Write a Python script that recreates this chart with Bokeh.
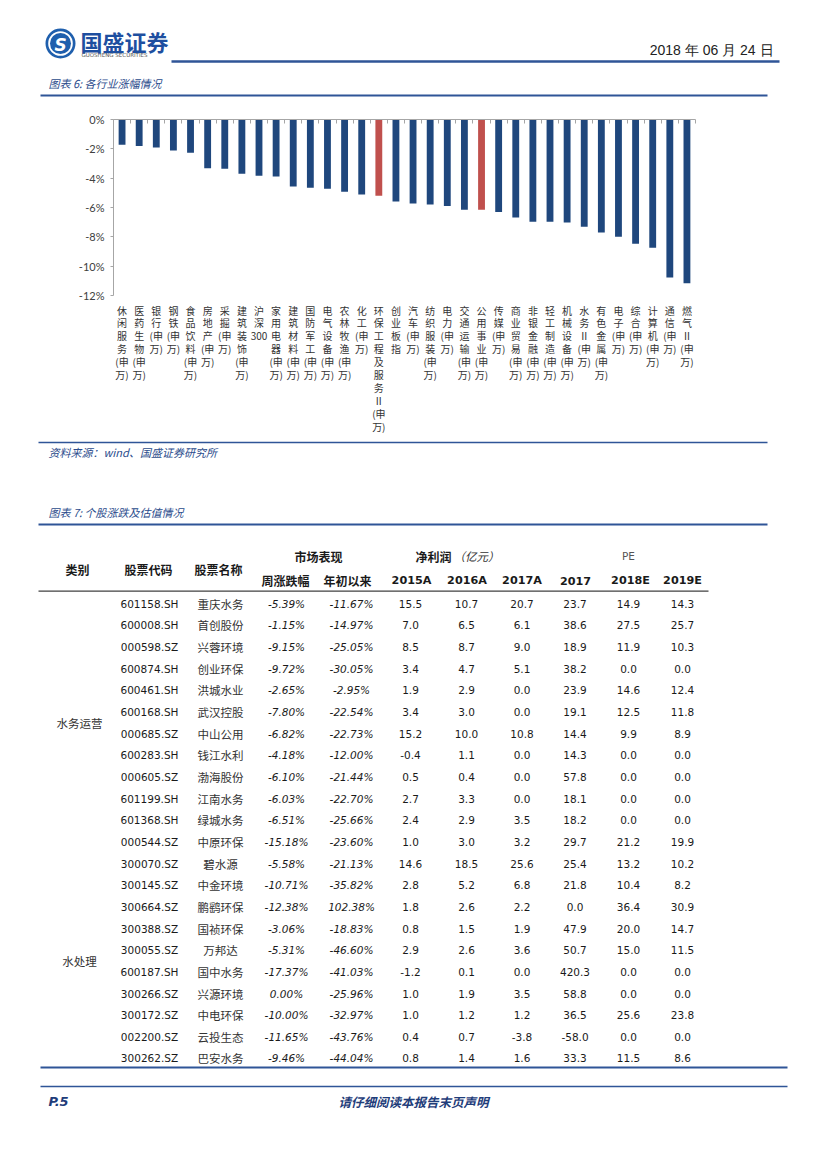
from bokeh.plotting import figure
from bokeh.models import Range1d, LinearAxis, FixedTicker, PrintfTickFormatter, ColumnDataSource, CustomJSTickFormatter
from bokeh.layouts import column
from bokeh.embed import file_html
from bokeh.resources import INLINE
from bokeh.core.properties import value

# ---------------- data: chart ----------------
industries = ["休闲服务(申万)", "医药生物(申万)", "银行(申万)", "钢铁(申万)", "食品饮料(申万)",
              "房地产(申万)", "采掘(申万)", "建筑装饰(申万)", "沪深300", "家用电器(申万)",
              "建筑材料(申万)", "国防军工(申万)", "电气设备(申万)", "农林牧渔(申万)", "化工(申万)",
              "环保工程及服务Ⅱ(申万)", "创业板指", "汽车(申万)", "纺织服装(申万)", "电力(申万)",
              "交通运输(申万)", "公用事业(申万)", "传媒(申万)", "商业贸易(申万)", "非银金融(申万)",
              "轻工制造(申万)", "机械设备(申万)", "水务Ⅱ(申万)", "有色金属(申万)", "电子(申万)",
              "综合(申万)", "计算机(申万)", "通信(申万)", "燃气Ⅱ(申万)"]
changes = [-1.73, -1.80, -1.91, -2.11, -2.27, -3.32, -3.36, -3.70, -3.84, -3.89,
           -4.57, -4.66, -4.73, -4.93, -5.11, -5.20, -5.59, -5.73, -5.80, -5.89,
           -6.16, -6.16, -6.30, -6.68, -6.98, -6.98, -7.02, -7.32, -7.70, -8.00,
           -8.48, -8.75, -10.77, -11.16]
highlighted = ["环保工程及服务Ⅱ(申万)", "公用事业(申万)"]
y_ticks = [0, -2, -4, -6, -8, -10, -12]

# ---------------- data: table ----------------
codes = ["601158.SH", "600008.SH", "000598.SZ", "600874.SH", "600461.SH", "600168.SH",
         "000685.SZ", "600283.SH", "000605.SZ", "601199.SH", "601368.SH", "000544.SZ",
         "300070.SZ", "300145.SZ", "300664.SZ", "300388.SZ", "300055.SZ", "600187.SH",
         "300266.SZ", "300172.SZ", "002200.SZ", "300262.SZ"]
names = ["重庆水务", "首创股份", "兴蓉环境", "创业环保", "洪城水业", "武汉控股", "中山公用",
         "钱江水利", "渤海股份", "江南水务", "绿城水务", "中原环保", "碧水源", "中金环境",
         "鹏鹞环保", "国祯环保", "万邦达", "国中水务", "兴源环境", "中电环保", "云投生态", "巴安水务"]
week_chg = [-5.39, -1.15, -9.15, -9.72, -2.65, -7.80, -6.82, -4.18, -6.10, -6.03, -6.51,
            -15.18, -5.58, -10.71, -12.38, -3.06, -5.31, -17.37, 0.00, -10.00, -11.65, -9.46]
ytd_chg = [-11.67, -14.97, -25.05, -30.05, -2.95, -22.54, -22.73, -12.00, -21.44, -22.70, -25.66,
           -23.60, -21.13, -35.82, 102.38, -18.83, -46.60, -41.03, -25.96, -32.97, -43.76, -44.04]
np2015 = [15.5, 7.0, 8.5, 3.4, 1.9, 3.4, 15.2, -0.4, 0.5, 2.7, 2.4, 1.0, 14.6, 2.8, 1.8, 0.8, 2.9, -1.2, 1.0, 1.0, 0.4, 0.8]
np2016 = [10.7, 6.5, 8.7, 4.7, 2.9, 3.0, 10.0, 1.1, 0.4, 3.3, 2.9, 3.0, 18.5, 5.2, 2.6, 1.5, 2.6, 0.1, 1.9, 1.2, 0.7, 1.4]
np2017 = [20.7, 6.1, 9.0, 5.1, 0.0, 0.0, 10.8, 0.0, 0.0, 0.0, 3.5, 3.2, 25.6, 6.8, 2.2, 1.9, 3.6, 0.0, 3.5, 1.2, -3.8, 1.6]
pe2017 = [23.7, 38.6, 18.9, 38.2, 23.9, 19.1, 14.4, 14.3, 57.8, 18.1, 18.2, 29.7, 25.4, 21.8, 0.0, 47.9, 50.7, 420.3, 58.8, 36.5, -58.0, 33.3]
pe2018 = [14.9, 27.5, 11.9, 0.0, 14.6, 12.5, 9.9, 0.0, 0.0, 0.0, 0.0, 21.2, 13.2, 10.4, 36.4, 20.0, 15.0, 0.0, 0.0, 25.6, 0.0, 11.5]
pe2019 = [14.3, 25.7, 10.3, 0.0, 12.4, 11.8, 8.9, 0.0, 0.0, 0.0, 0.0, 19.9, 10.2, 8.2, 30.9, 14.7, 11.5, 0.0, 0.0, 23.8, 0.0, 8.6]
group_names = ["水务运营", "水处理"]
group_sizes = [12, 10]
year_headers = ["2015A", "2016A", "2017A", "2017", "2018E", "2019E"]

# ---------------- styles ----------------
CJK = "Noto Sans CJK SC"
NUM = "DejaVu Sans"
BLUE = "#2F5597"
CAP_BLUE = "#2B4C8C"
BAR_BLUE = "#1F477D"
BAR_RED = "#C0504D"
AX_GRAY = "#A6A6A6"
PAGE_W = 811


def section(y_top, y_bot):
    f = figure(width=PAGE_W, height=int(round(y_bot - y_top)), x_range=Range1d(0, PAGE_W),
               y_range=Range1d(y_bot, y_top), output_backend="svg", toolbar_location=None,
               min_border=0, x_axis_type=None, y_axis_type=None, frame_align=False)
    f.outline_line_color = None
    f.background_fill_color = "white"
    f.border_fill_color = "white"
    return f


def txt(f, x, y, s, size, color="#000000", font=CJK, style="normal", align="left", baseline="middle"):
    f.text(x=[x], y=[y], text=[s], text_font=value(font), text_font_size=f"{size}px",
           text_color=color, text_font_style=style, text_align=align, text_baseline=baseline)


def hline(f, x0, x1, y, color, w):
    f.segment(x0=[x0], x1=[x1], y0=[y], y1=[y], line_color=color, line_width=w)


# ---------------- header ----------------
hdr = section(0, 105)
hdr.annulus(x=[60], y=[43], inner_radius=12.3, outer_radius=15, fill_color="#1F5FAD", line_color=None)
hdr.circle(x=[60], y=[43], radius=10.5, fill_color="#1F5FAD", line_color=None)
txt(hdr, 60, 44, "S", 17, "white", NUM, "bold italic", "center")
txt(hdr, 80, 40, "国盛证券", 22, "#1E4FA0", CJK, "bold")
txt(hdr, 81, 54, "GUOSHENG SECURITIES", 5.5, "#555555", NUM)
txt(hdr, 773, 49, "2018 年 06 月 24 日", 14, "#222222", "Liberation Sans", "normal", "right")
hline(hdr, 171, 779, 61, BLUE, 2.5)
txt(hdr, 48, 82, "图表 6:  各行业涨幅情况", 11, CAP_BLUE, CJK, "italic")
hline(hdr, 40, 767, 95, BLUE, 2)

# ---------------- bar chart ----------------


def stack(s):
    rows, pre = [], ""
    for ch in s:
        if ch == "(":
            pre = ch
        elif ch == ")":
            rows[-1] += ch
        elif ch.isdigit() and rows and rows[-1][-1:].isdigit():
            rows[-1] += ch
        else:
            rows.append(pre + ch)
            pre = ""
    return "\n".join(rows)


ncat = len(industries)
labels = [stack(c) for c in industries]
colors = [BAR_RED if c in highlighted else BAR_BLUE for c in industries]
xpos = [i + 0.5 for i in range(ncat)]
src = ColumnDataSource(dict(x=xpos, top=changes, color=colors))

p = figure(width=PAGE_W, height=333, x_range=Range1d(0, ncat),
           y_range=Range1d(-12, 0), output_backend="svg", toolbar_location=None,
           min_border_left=113, min_border_right=116, min_border_top=14, min_border_bottom=143,
           frame_align=False)
p.outline_line_color = None
p.xgrid.visible = False
p.ygrid.visible = False
p.vbar(x="x", top="top", bottom=0, width=0.4, fill_color="color", line_color=None, source=src)

top_ax = LinearAxis(ticker=FixedTicker(ticks=list(range(ncat + 1))),
                    formatter=CustomJSTickFormatter(code="return '';"))
top_ax.major_label_text_font_size = "8px"
top_ax.axis_line_color = AX_GRAY
top_ax.major_tick_line_color = AX_GRAY
top_ax.major_tick_in = 4
top_ax.major_tick_out = 0
top_ax.minor_tick_line_color = None
top_ax.major_label_standoff = 0
p.add_layout(top_ax, "above")

yax = p.left[0]
yax.ticker = FixedTicker(ticks=y_ticks)
yax.formatter = PrintfTickFormatter(format="%d%%")
yax.axis_line_color = AX_GRAY
yax.major_tick_line_color = AX_GRAY
yax.major_tick_out = 3
yax.major_tick_in = 0
yax.minor_tick_line_color = None
yax.major_label_text_font = "Lato"
yax.major_label_text_font_size = "11px"
yax.major_label_text_color = "#404040"
yax.major_label_standoff = 6

xax = p.below[0]
xax.ticker = FixedTicker(ticks=xpos)
xax.formatter = CustomJSTickFormatter(args=dict(labels=labels),
                                      code="return labels[Math.floor(tick)] || '';")
xax.axis_line_color = None
xax.major_tick_line_color = None
xax.minor_tick_line_color = None
xax.major_label_text_font = CJK
xax.major_label_text_font_size = "10px"
xax.major_label_text_line_height = 0.86
xax.major_label_text_color = "#333333"
xax.major_label_standoff = 1

# ---------------- middle ----------------
mid = section(438, 540)
hline(mid, 38, 767, 442, BLUE, 1.5)
txt(mid, 48, 451, "资料来源：wind、国盛证券研究所", 11, CAP_BLUE, CJK, "italic")
txt(mid, 48, 511, "图表 7:  个股涨跌及估值情况", 11, CAP_BLUE, CJK, "italic")
hline(mid, 38, 767, 524, BLUE, 2)

# ---------------- table ----------------
ROW0, ROWH = 603.3, 21.65
T_TOP, T_BOT = 540, 1075
tbl = figure(width=PAGE_W, height=T_BOT - T_TOP, x_range=Range1d(0, PAGE_W),
             y_range=Range1d((T_BOT - ROW0) / ROWH, (T_TOP - ROW0) / ROWH),
             output_backend="svg", toolbar_location=None, min_border=0,
             x_axis_type=None, y_axis_type=None, frame_align=False)
tbl.outline_line_color = None

n = len(codes)
rows = list(range(n))
tsrc = ColumnDataSource(dict(
    row=rows, code=codes, name=names,
    week=[f"{v:.2f}%" for v in week_chg], ytd=[f"{v:.2f}%" for v in ytd_chg],
    a15=[f"{v:.1f}" for v in np2015], a16=[f"{v:.1f}" for v in np2016], a17=[f"{v:.1f}" for v in np2017],
    p17=[f"{v:.1f}" for v in pe2017], p18=[f"{v:.1f}" for v in pe2018], p19=[f"{v:.1f}" for v in pe2019]))

col_specs = [("code", 149, NUM, "normal", 10.5), ("name", 220, CJK, "normal", 11.5),
             ("week", 286, NUM, "italic", 10.5), ("ytd", 351, NUM, "italic", 10.5),
             ("a15", 410, NUM, "normal", 10.5), ("a16", 466, NUM, "normal", 10.5),
             ("a17", 521.5, NUM, "normal", 10.5), ("p17", 574.5, NUM, "normal", 10.5),
             ("p18", 628, NUM, "normal", 10.5), ("p19", 682, NUM, "normal", 10.5)]
for field, cx, font, style, size in col_specs:
    tbl.text(x=cx, y="row", text=field, source=tsrc, text_font=value(font), text_font_size=f"{size}px",
             text_font_style=style, text_color="#1A1A1A" if field != "name" else "#333333",
             text_align="center", text_baseline="middle")

# group labels, centred on their rows
start = 0
for g, size in zip(group_names, group_sizes):
    centre = start + (size - 1) / 2
    tbl.text(x=[79], y=[centre], text=[g], text_font=value(CJK), text_font_size="11.5px",
             text_color="#333333", text_align="center", text_baseline="middle")
    start += size

H1, H2, HM, HL = -2.185, -1.076, -1.584, -0.582
for s, cx in [("类别", 77), ("股票代码", 148), ("股票名称", 218)]:
    txt(tbl, cx, HM, s, 12, "#1A1A1A", CJK, "bold", "center")
txt(tbl, 318, H1, "市场表现", 12, "#1A1A1A", CJK, "bold", "center")
txt(tbl, 451, H1, "净利润", 12, "#1A1A1A", CJK, "bold", "right")
txt(tbl, 453, H1, "（亿元）", 11.5, "#333333", CJK, "italic", "left")
txt(tbl, 628, H1, "PE", 10.5, "#555555", NUM, "normal", "center")
txt(tbl, 285, H2, "周涨跌幅", 12, "#1A1A1A", CJK, "bold", "center")
txt(tbl, 347, H2, "年初以来", 12, "#1A1A1A", CJK, "bold", "center")
for s, cx in zip(year_headers, [411, 466.5, 521.5, 575, 630, 682]):
    txt(tbl, cx, H2, s, 11.2, "#1A1A1A", NUM, "bold", "center")
hline(tbl, 38, 708, HL, "#404040", 1.2)
hline(tbl, 40, 787, (1067 - ROW0) / ROWH, BLUE, 2)

# ---------------- footer ----------------
ftr = section(1075, 1161)
hline(ftr, 40, 787, 1086, BLUE, 1.5)
txt(ftr, 48, 1101, "P.5", 13, "#1F3D7A", NUM, "bold italic")
txt(ftr, 413, 1101, "请仔细阅读本报告末页声明", 12.5, "#1F3D7A", CJK, "bold italic", "center")

layout = column(hdr, p, mid, tbl, ftr, spacing=0)
with open("out.html", "w", encoding="utf-8") as fh:
    fh.write(file_html(layout, INLINE))
